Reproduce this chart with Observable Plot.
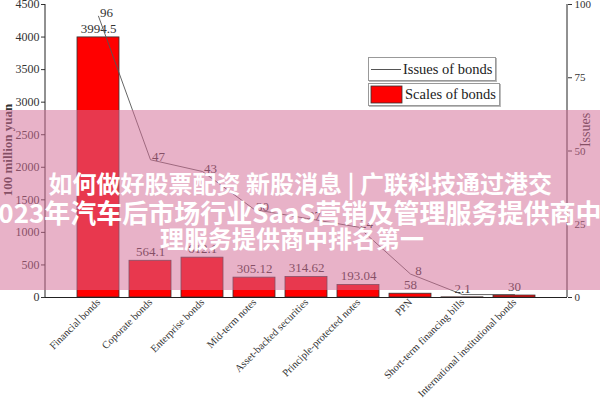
<!DOCTYPE html>
<html>
<head>
<meta charset="utf-8">
<script src="https://cdn.jsdelivr.net/npm/d3@7"></script>
<script src="https://cdn.jsdelivr.net/npm/@observablehq/plot@0.6"></script>
<style>
  body { margin: 0; background: #fff; }
  #wrap { position: relative; width: 600px; height: 400px; overflow: hidden; font-family: "Liberation Serif", serif; }
  .ytitle { position: absolute; font-weight: bold; font-size: 13px; color: #333; white-space: nowrap; transform-origin: center center; }
  .legbox { position: absolute; border: 1px solid #999; box-shadow: 1px 1px 0 #bbb; background: #fff; font-size: 14.5px; color: #222; display: flex; align-items: center; }
  #overlay { position: absolute; left: 0; top: 110px; width: 600px; height: 180px; background: rgba(210,108,150,0.52); }
  .ov { position: absolute; color: #fff; font-family: "Noto Sans CJK SC", sans-serif; font-weight: bold; font-size: 24px; white-space: nowrap; line-height: 1; }
</style>
</head>
<body>
<div id="wrap"></div>
<script>
const categories = ["Financial bonds", "Coporate bonds", "Enterprise bonds", "Mid-term notes", "Asset-backed securities", "Principle-protected notes", "PPN", "Short-term financing bills", "International institutional bonds"];
const scales = [3994.5, 564.1, 612.1, 305.12, 314.62, 193.04, 58, 2.1, 30];
const issues = [96, 47, 43, 30, 27, 24, 8, 1, 1];
const leftTicks = [0, 500, 1000, 1500, 2000, 2500, 3000, 3500, 4000, 4500];
const rightTicks = [0, 25, 50, 75, 100];
const ratio = 45; // right axis 100 <-> left axis 4500

const data = categories.map((c, i) => ({cat: c, scale: scales[i], issues: issues[i]}));
const W = 600, H = 400, mL = 45, mR = 33, mT = 4, mB = 103;

const plot = Plot.plot({
  width: W, height: H,
  marginLeft: mL, marginRight: mR, marginTop: mT, marginBottom: mB,
  style: {fontFamily: "Liberation Serif", fontSize: "12px", color: "#333", background: "white"},
  x: {domain: categories, paddingInner: 0.2, paddingOuter: 0.59, label: null},
  y: {domain: [0, 4500], label: null},
  marks: [
    Plot.barY(data, {x: "cat", y: "scale", fill: "#ff0000", stroke: "#333", strokeWidth: 0.8}),
    Plot.text(data, {x: "cat", y: "scale", text: d => String(d.scale), dy: -9, fontSize: 13, fill: "#333"}),
    Plot.lineY(data, {x: "cat", y: d => d.issues * ratio, stroke: "#555", strokeWidth: 0.9}),
    Plot.text(data.slice(0, 7), {x: "cat", y: d => d.issues * ratio, text: d => String(d.issues), dx: 8, dy: -3, fontSize: 13, fill: "#333"}),
    Plot.axisY({ticks: leftTicks, tickFormat: d3.format("d"), anchor: "left", tickSize: 4, tickPadding: 2, label: null, fontSize: 12}),
    Plot.axisY({ticks: rightTicks.map(v => v * ratio), tickFormat: v => String(v / ratio), anchor: "right", tickSize: 4, tickPadding: 3, label: null, fontSize: 11}),
    Plot.axisX({tickRotate: -45, tickSize: 0, tickPadding: 3, fontSize: 10.5, label: null}),
    Plot.ruleY([0], {stroke: "#222"})
  ]
});

// axis lines on left and right edges of the frame
const svg = d3.select(plot);
svg.append("line").attr("x1", mL).attr("x2", mL).attr("y1", mT).attr("y2", H - mB).attr("stroke", "#222");
svg.append("line").attr("x1", W - mR).attr("x2", W - mR).attr("y1", mT).attr("y2", H - mB).attr("stroke", "#222");

const wrap = document.getElementById("wrap");
wrap.appendChild(plot);

// Y titles
const lt = document.createElement("div");
lt.className = "ytitle";
lt.textContent = "100 million yuan";
wrap.appendChild(lt);
lt.style.left = (8 - lt.offsetWidth / 2) + "px";
lt.style.top = (150 - lt.offsetHeight / 2) + "px";
lt.style.transform = "rotate(-90deg)";

const rt = document.createElement("div");
rt.className = "ytitle";
rt.style.fontWeight = "normal";
rt.style.fontSize = "14px";
rt.textContent = "Issues";
wrap.appendChild(rt);
rt.style.left = (586 - rt.offsetWidth / 2) + "px";
rt.style.top = (130 - rt.offsetHeight / 2) + "px";
rt.style.transform = "rotate(-90deg)";

// Legend
const l1 = document.createElement("div");
l1.className = "legbox";
l1.style.left = "368px"; l1.style.top = "57px"; l1.style.height = "22px"; l1.style.paddingRight = "3px";
l1.innerHTML = '<svg width="34" height="22"><line x1="2" x2="32" y1="11.5" y2="11.5" stroke="#555" stroke-width="1"/></svg><span>Issues of bonds</span>';
wrap.appendChild(l1);
const l2 = document.createElement("div");
l2.className = "legbox";
l2.style.left = "368px"; l2.style.top = "83px"; l2.style.height = "21px"; l2.style.paddingRight = "3px";
l2.innerHTML = '<svg width="36" height="21"><rect x="2" y="2" width="31" height="17" fill="#ff0000" stroke="#333" stroke-width="0.8"/></svg><span>Scales of bonds</span>';
wrap.appendChild(l2);

// Overlay banner
const ov = document.createElement("div");
ov.id = "overlay";
wrap.appendChild(ov);
const lines = [
  {t: "如何做好股票配资 新股消息 | 广联科技通过港交", y: 73, center: true, size: 24},
  {t: "2023年汽车后市场行业SaaS营销及管理服务提供商中", y: 102, left: -17, size: 26},
  {t: "理服务提供商中排名第一", y: 128, left: 160, size: 24}
];
lines.forEach(L => {
  const s = document.createElement("div");
  s.className = "ov";
  s.style.fontSize = L.size + "px";
  s.textContent = L.t;
  ov.appendChild(s);
  s.style.top = (L.y - s.offsetHeight / 2) + "px";
  s.style.left = (L.center ? (300 - s.offsetWidth / 2) : L.left) + "px";
});
</script>
</body>
</html>
